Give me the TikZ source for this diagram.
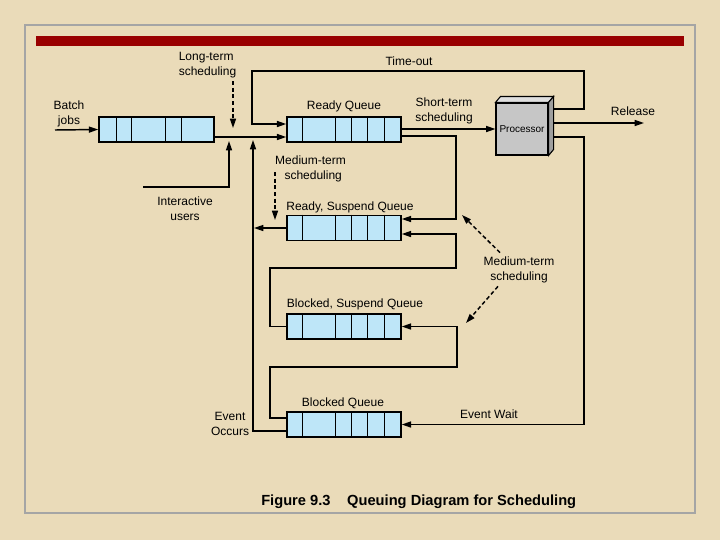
\documentclass[tikz,border=0pt]{standalone}
\usepackage{fontspec}
\setmainfont{Liberation Sans}
\usetikzlibrary{arrows.meta,calc}

\definecolor{paper}{RGB}{234,219,185}
\definecolor{barred}{RGB}{153,0,0}
\definecolor{qblue}{RGB}{190,230,248}
\definecolor{framegray}{RGB}{165,165,165}

\tikzset{
  arr/.style={line width=1.1pt, -{Triangle[length=7pt,width=4.5pt]}},
  dasharr/.style={arr, dash pattern=on 3pt off 2pt},
  queue/.style={draw, line width=1.1pt, fill=qblue, minimum width=85.5pt, minimum height=19pt, inner sep=0pt},
  proc/.style={draw, line width=0.8pt, fill=gray!45, minimum width=39pt, minimum height=39pt, inner sep=0pt, font=\fontsize{7.5}{9}\selectfont},
  lbl/.style={font=\fontsize{9}{11.25}\selectfont, align=center, inner sep=0pt}
}

% cells of a queue, offsets in px from its left side
\newcommand{\qcells}[2]{\foreach \d in {#2} \draw[line width=1.1pt] ([xshift=\d*0.75pt]#1.north west) -- ([xshift=\d*0.75pt]#1.south west);}

\begin{document}
\begin{tikzpicture}[x=0.75pt, y=-0.75pt]
    % Slide
    \useasboundingbox (0,0) rectangle (720,540);
    \fill[paper] (0,0) rectangle (720,540);
    \draw[framegray, line width=1.5pt] (25,25) rectangle (695,513);
    \fill[barred] (36,36) rectangle (684,46);

    % Queues
    \node[queue, minimum width=86.25pt] (bq) at (156.5,129.5) {};
    \node[queue] (rq) at (344,129.5) {};
    \node[queue] (rsq) at (344,228) {};
    \node[queue] (bsq) at (344,326.5) {};
    \node[queue] (blq) at (344,424.5) {};
    \qcells{bq}{18,33,67,83}
    \foreach \q in {rq,rsq,bsq,blq} {\qcells{\q}{16,49,65,81,98}}

    % Processor
    \node[proc] (cpu) at (522,129) {Processor};
    \draw[line width=0.8pt, fill=gray!25] (cpu.north west) -- ($(cpu.north west)+(5,-6)$) -- ($(cpu.north east)+(5,-6)$) -- (cpu.north east) -- cycle;
    \draw[line width=0.8pt, fill=gray!75] (cpu.north east) -- ($(cpu.north east)+(5,-6)$) -- ($(cpu.south east)+(5,-6)$) -- (cpu.south east) -- cycle;
    \coordinate (cpu-side) at ($(cpu.east)+(5,0)$);

    % Labels
    \node[lbl] (batch) at (69,114) {Batch\\jobs};
    \node[lbl, align=left] (lts) at (207.5,65) {Long-term\\scheduling};
    \node[lbl] (timeout) at (409,61) {Time-out};
    \node[lbl] (rql) at (344,106) {Ready Queue};
    \node[lbl] (sts) at (444,111) {Short-term\\scheduling};
    \node[lbl] (release) at (633,111) {Release};
    \node[lbl] (iu) at (185,209) {Interactive\\users};
    \node[lbl, align=left] (mts1) at (310.5,169) {Medium-term\\\hspace*{7pt}scheduling};
    \node[lbl] (rsql) at (350,207) {Ready, Suspend Queue};
    \node[lbl] (mts2) at (519,270) {Medium-term\\scheduling};
    \node[lbl] (bsql) at (355,304) {Blocked, Suspend Queue};
    \node[lbl] (blql) at (343,403) {Blocked Queue};
    \node[lbl] (ewait) at (489,414) {Event Wait};
    \node[lbl] (eoccurs) at (230,423.5) {Event\\Occurs};
    \node[font=\fontsize{11}{13}\selectfont\bfseries, anchor=west, inner sep=0pt] (caption) at (261,502) {Figure 9.3\hspace{12.5pt}Queuing Diagram for Scheduling};

    % Admission
    \coordinate (batch-in) at (55,130);
    \draw[arr] (batch-in) -- (bq.west);
    \draw[arr] (bq.east |- 0,137) -- (rq.west |- 0,137);
    \coordinate (lts-end) at (233,128);
    \draw[dasharr] ($(lts.south -| lts-end)+(0,3)$) -- (lts-end);
    \coordinate (iu-start) at (143,187);
    \coordinate (iu-end) at (229,141);
    \draw[arr] (iu-start) -| (iu-end);

    % Processor in and out
    \draw[arr] (rq.east |- 0,129) -- (cpu.west |- 0,129);
    \draw[arr] (cpu-side |- 0,109) -| (584,71) -| (252,124) -- (rq.west |- 0,124);
    \coordinate (rel) at (644,123);
    \draw[arr] (cpu-side |- rel) -- (rel);
    \draw[arr] (cpu-side |- 0,137) -| (584,424.5) -- (blq.east);

    % Suspend and resume
    \draw[arr] (rq.east |- 0,136) -| (456,219) -- (rsq.east |- 0,219);
    \coordinate (rs-out) at (254,228);
    \draw[arr] (rsq.west) -- (rs-out);
    \coordinate (ready-in) at (253,140);
    \draw[arr] (blq.west |- 0,431) -| (ready-in);
    \draw[arr] (bsq.west) -| (270,268) -| (456,234) -- (rsq.east |- 0,234);
    \draw[arr] (blq.west |- 0,418) -| (270,367) -| (457,326.5) -- (bsq.east);

    % Medium-term scheduling
    \coordinate (mts1-end) at (275,220);
    \draw[dasharr] ($(mts1.west -| mts1-end)+(0,3)$) -- (mts1-end);
    \coordinate (mts2-up) at (462,215);
    \coordinate (mts2-down) at (466,323);
    \draw[dasharr] ($(mts2.north)+(-19,-4)$) -- (mts2-up);
    \draw[dasharr] ($(mts2.south)+(-21,3)$) -- (mts2-down);

\end{tikzpicture}
\end{document}
